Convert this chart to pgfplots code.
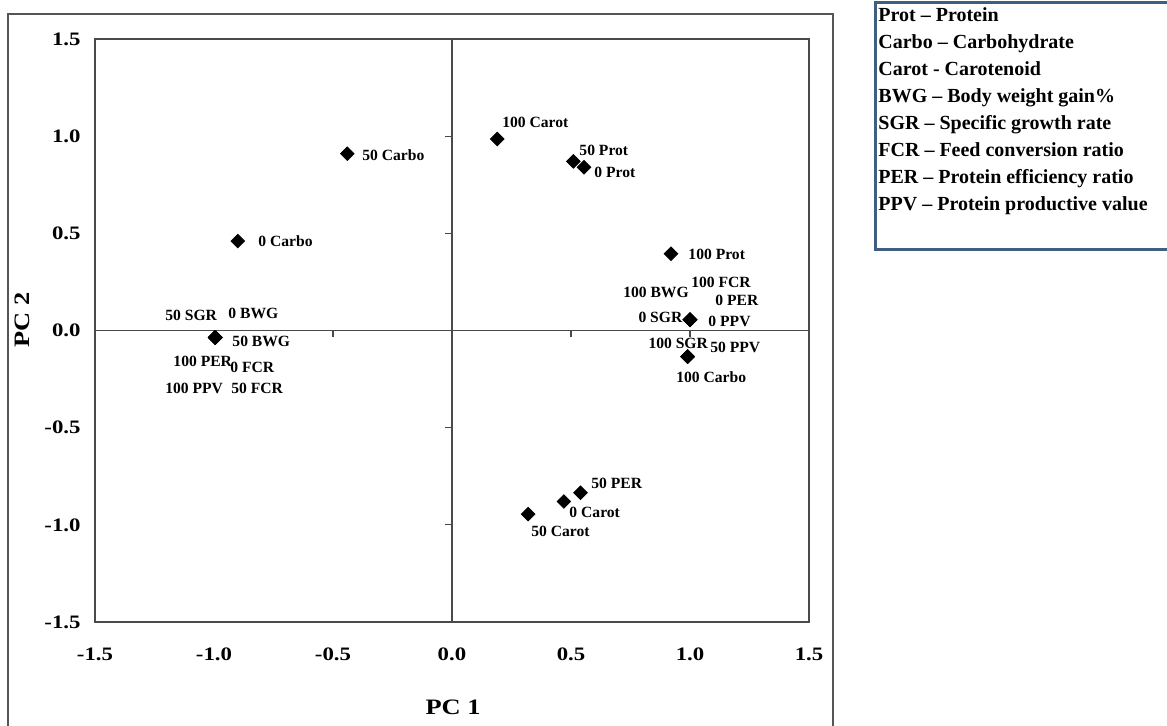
\documentclass[border=0pt]{standalone}
\usepackage{fontspec}
\setmainfont{Liberation Serif}
\newfontfamily\widefont{Liberation Serif}[FakeStretch=1.2]
\usepackage{pgfplots}
\pgfplotsset{compat=1.18}
\usepackage{pgfplotstable}
\definecolor{axgray}{HTML}{4A4A4A}
\definecolor{framegray}{HTML}{555555}
\definecolor{legblue}{HTML}{3F5F80}

% marker positions: variable, PC1, PC2
\pgfplotstableread[col sep=comma]{
var,x,y
50 SGR,-0.995,-0.036
0 BWG,-0.995,-0.036
50 BWG,-0.995,-0.036
100 PER,-0.995,-0.036
0 FCR,-0.995,-0.036
100 PPV,-0.995,-0.036
50 FCR,-0.995,-0.036
50 Carbo,-0.44,0.91
0 Carbo,-0.90,0.46
100 Carot,0.19,0.985
50 Prot,0.51,0.87
0 Prot,0.555,0.84
100 Prot,0.92,0.395
100 BWG,1.00,0.055
100 FCR,1.00,0.055
0 PER,1.00,0.055
0 SGR,1.00,0.055
0 PPV,1.00,0.055
100 SGR,0.99,-0.135
50 PPV,0.99,-0.135
100 Carbo,0.99,-0.135
50 PER,0.54,-0.835
0 Carot,0.47,-0.88
50 Carot,0.32,-0.945
}\points

% label positions (left edge, centre)
\pgfplotstableread[col sep=comma]{
lx,ly,lab
-1.206,0.080,50 SGR
-0.941,0.090,0 BWG
-0.924,-0.054,50 BWG
-1.172,-0.157,100 PER
-0.933,-0.188,0 FCR
-1.206,-0.296,100 PPV
-0.929,-0.296,50 FCR
-0.378,0.903,50 Carbo
-0.815,0.461,0 Carbo
0.21,1.073,100 Carot
0.534,0.929,50 Prot
0.597,0.816,0 Prot
0.992,0.394,100 Prot
0.718,0.198,100 BWG
1.004,0.250,100 FCR
1.105,0.157,0 PER
0.782,0.069,0 SGR
1.076,0.049,0 PPV
0.824,-0.064,100 SGR
1.084,-0.085,50 PPV
0.941,-0.239,100 Carbo
0.584,-0.785,50 PER
0.492,-0.934,0 Carot
0.332,-1.032,50 Carot
}\labels

\begin{document}
\begin{tikzpicture}
\useasboundingbox (0,0) rectangle (583.5pt,363pt);
\clip (0,0) rectangle (583.5pt,363pt);
% outer chart frame
\draw[framegray, line width=0.8pt] (4pt,-10pt) rectangle (416.5pt,356pt);
% legend box
\draw[legblue, line width=1.5pt, fill=white] (437.5pt,238pt) rectangle (600pt,361.5pt);
\begin{scope}[every node/.style={anchor=base west, inner sep=0pt, font=\bfseries\fontsize{10}{12}\selectfont}]
\node at (439pt,352.2pt) {Prot -- Protein};
\node at (439pt,338.7pt) {Carbo -- Carbohydrate};
\node at (439pt,325.2pt) {Carot - Carotenoid};
\node at (439pt,311.7pt) {BWG -- Body weight gain\%};
\node at (439pt,298.2pt) {SGR -- Specific growth rate};
\node at (439pt,284.7pt) {FCR -- Feed conversion ratio};
\node at (439pt,271.2pt) {PER -- Protein efficiency ratio};
\node at (439pt,257.7pt) {PPV -- Protein productive value};
\end{scope}

\begin{axis}[
  at={(47.5pt,52pt)}, anchor=south west,
  scale only axis, width=357pt, height=291.5pt,
  xmin=-1.5, xmax=1.5, ymin=-1.5, ymax=1.5,
  axis line style={axgray, line width=0.8pt},
  xtick={-1.5,-1,-0.5,0,0.5,1,1.5},
  ytick={-1.5,-1,-0.5,0,0.5,1,1.5},
  xticklabels={{-1.5},{-1.0},{-0.5},{0.0},{0.5},{1.0},{1.5}},
  yticklabels={{-1.5},{-1.0},{-0.5},{0.0},{0.5},{1.0},{1.5}},
  major tick length=0pt,
  tick label style={font=\widefont\bfseries\fontsize{9.5}{11}\selectfont},
  xticklabel style={yshift=-9.5pt},
  yticklabel style={xshift=-3.7pt},
  clip=false,
]
\draw[axgray, line width=0.8pt] (axis cs:0,-1.5) -- (axis cs:0,1.5);
\draw[axgray, line width=0.8pt] (axis cs:-1.5,0) -- (axis cs:1.5,0);
\pgfplotsinvokeforeach{-1.5,-1,-0.5,0.5,1,1.5}{
  \draw[axgray, line width=0.6pt] (axis cs:0,#1) -- ++(-3.5pt,0pt);
  \draw[axgray, line width=0.6pt] (axis cs:#1,0) -- ++(0pt,-3.5pt);
}
\addplot[only marks, black, mark=square*, mark size=2.4pt,
  mark options={rotate=45, fill=black, draw=black}]
  table[x=x, y=y]{\points};
\addplot[draw=none, mark=none, nodes near coords, point meta=explicit symbolic,
  nodes near coords style={anchor=west, inner sep=0pt, text=black,
  font=\bfseries\fontsize{7.8}{9}\selectfont}]
  table[x=lx, y=ly, meta=lab]{\labels};
\end{axis}
\node[font=\widefont\bfseries\fontsize{11}{13}\selectfont] at (226.5pt,9.5pt) {PC 1};
\node[font=\widefont\bfseries\fontsize{11}{13}\selectfont, rotate=90] at (11pt,203pt) {PC 2};
\end{tikzpicture}
\end{document}
